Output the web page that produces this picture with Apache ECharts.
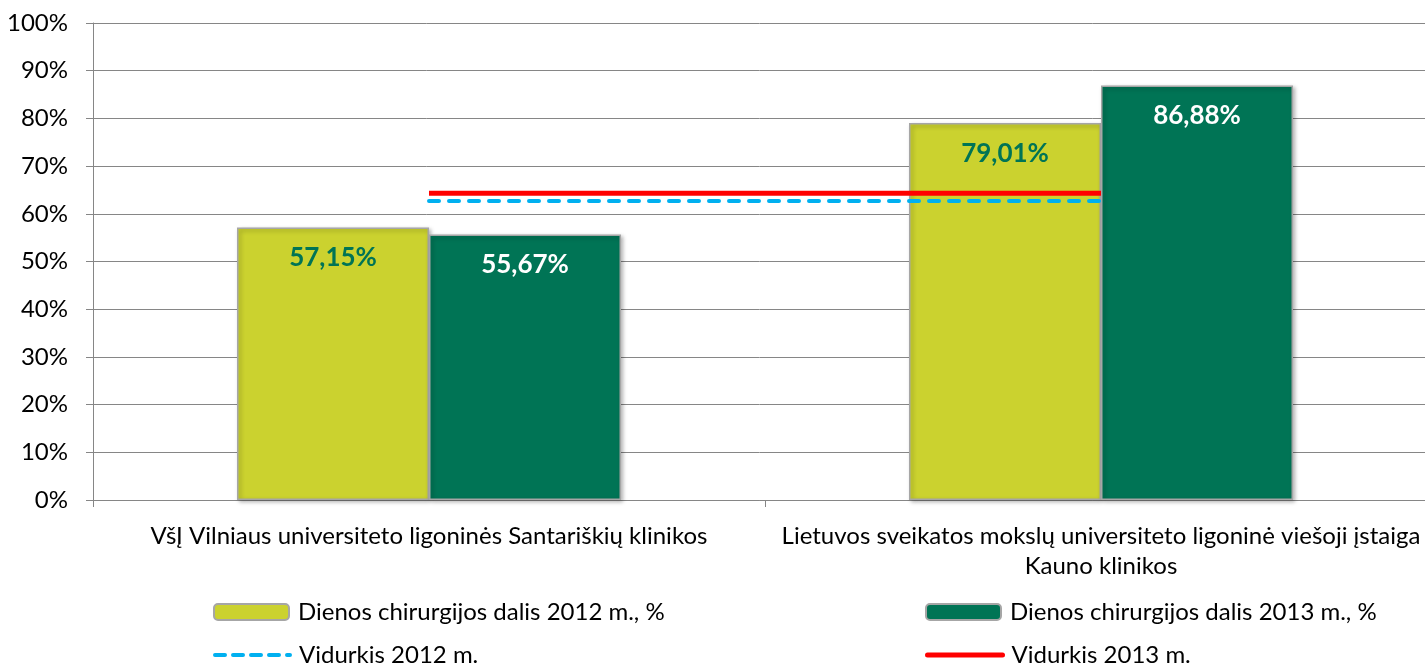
<!DOCTYPE html>
<html><head><meta charset="utf-8">
<script src="https://cdn.jsdelivr.net/npm/echarts@6/dist/echarts.min.js"></script>
<style>html,body{margin:0;padding:0;background:#fff}#c{width:1425px;height:668px}</style>
</head><body><div id="c"></div>
<script>
const categories = ["VšĮ Vilniaus universiteto ligoninės Santariškių klinikos", "Lietuvos sveikatos mokslų universiteto ligoninė viešoji įstaiga\nKauno klinikos"];
const share2012 = [57.15, 79.01];
const share2013 = [55.67, 86.88];
const avg2012 = [62.7, 62.7];
const avg2013 = [64.3, 64.3];
const seriesNames = ["Dienos chirurgijos dalis 2012 m., %", "Dienos chirurgijos dalis 2013 m., %", "Vidurkis 2012 m.", "Vidurkis 2013 m."];

const FONT = "Lato";
const fmt = v => v.toFixed(2).replace('.', ',') + '%';
const chart = echarts.init(document.getElementById('c'), null, {renderer: 'canvas'});
const barBase = {
  type: 'bar', barWidth: 192, barGap: '0%',
  label: {show: true, position: 'insideTop', distance: 17, fontFamily: FONT, fontWeight: 'bold', fontSize: 26}
};
function leg(left, top, item) {
  return {left: left, top: top, itemWidth: 75, itemHeight: 16, padding: 0,
    textStyle: {fontFamily: FONT, fontSize: 24, color: '#000', padding: [0, 0, 0, 4]}, data: [item]};
}
chart.setOption({
  animation: false,
  textStyle: {fontFamily: FONT},
  grid: {left: 93, top: 23, width: 1344, height: 477, outerBoundsMode: 'none', containLabel: false},
  legend: [
    leg(213, 600, {name: seriesNames[0]}),
    leg(213, 643, {name: seriesNames[2], itemStyle: {opacity: 0}, lineStyle: {width: 4, type: [10, 8], cap: 'round', color: '#00B0F0'}}),
    leg(925, 600, {name: seriesNames[1]}),
    leg(925, 643, {name: seriesNames[3], itemStyle: {opacity: 0}, lineStyle: {width: 5, color: '#FF0000', cap: 'round'}})
  ],
  xAxis: {
    type: 'category', data: categories, boundaryGap: true,
    axisLine: {lineStyle: {color: '#868686'}},
    axisTick: {show: true, length: 7, lineStyle: {color: '#868686'}},
    axisLabel: {color: '#000', fontFamily: FONT, fontSize: 24, lineHeight: 30, margin: 21, interval: 0}
  },
  yAxis: {
    type: 'value', min: 0, max: 100, interval: 10,
    axisLine: {show: true, lineStyle: {color: '#868686'}},
    axisTick: {show: true, length: 7, lineStyle: {color: '#868686'}},
    splitLine: {lineStyle: {color: '#868686', width: 1}},
    axisLabel: {color: '#000', fontFamily: FONT, fontSize: 24, margin: 25, formatter: '{value}%'}
  },
  series: [
    Object.assign({}, barBase, {
      name: seriesNames[0], data: share2012,
      itemStyle: {color: '#CBD22F', borderColor: '#A6A6A6', borderWidth: 1.5, shadowBlur: 4, shadowColor: 'rgba(0,0,0,0.3)', shadowOffsetX: 2, shadowOffsetY: 2},
      label: Object.assign({}, barBase.label, {color: '#007455', formatter: p => fmt(p.value)})
    }),
    Object.assign({}, barBase, {
      name: seriesNames[1], data: share2013,
      itemStyle: {color: '#007455', borderColor: '#A6A6A6', borderWidth: 1.5, shadowBlur: 4, shadowColor: 'rgba(0,0,0,0.3)', shadowOffsetX: 2, shadowOffsetY: 2},
      label: Object.assign({}, barBase.label, {color: '#fff', formatter: p => fmt(p.value)})
    }),
    {name: seriesNames[2], type: 'line', data: avg2012, symbol: 'none', z: 3,
     itemStyle: {color: '#00B0F0'},
     lineStyle: {color: '#00B0F0', width: 4, type: [10, 10], cap: 'round'}},
    {name: seriesNames[3], type: 'line', data: avg2013, symbol: 'none', z: 4,
     itemStyle: {color: '#FF0000'},
     lineStyle: {color: '#FF0000', width: 5}}
  ]
});
</script></body></html>
